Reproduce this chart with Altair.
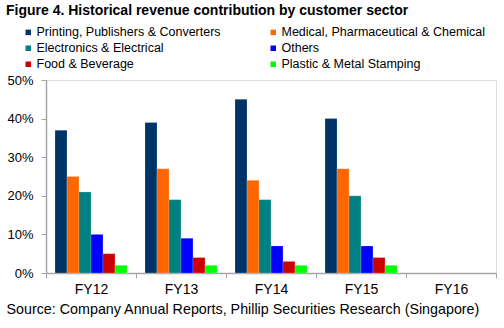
import altair as alt
import pandas as pd

fys = ["FY12", "FY13", "FY14", "FY15", "FY16"]
sectors = [
    "Printing, Publishers & Converters",
    "Medical, Pharmaceutical & Chemical",
    "Electronics & Electrical",
    "Others",
    "Food & Beverage",
    "Plastic & Metal Stamping",
]
colors = ["#003366", "#FF6600", "#008080", "#0000FF", "#CC0000", "#00FF00"]

printing = [0.37, 0.39, 0.45, 0.40]
medical = [0.25, 0.27, 0.24, 0.27]
electronics = [0.21, 0.19, 0.19, 0.20]
others = [0.10, 0.09, 0.07, 0.07]
food = [0.05, 0.04, 0.03, 0.04]
plastic = [0.02, 0.02, 0.02, 0.02]

series = [printing, medical, electronics, others, food, plastic]
rows = []
for name, vals in zip(sectors, series):
    for fy, v in zip(fys, vals):
        rows.append({"FY": fy, "Sector": name, "Value": v})
df = pd.DataFrame(rows)

FONT = "Liberation Sans"

chart = alt.Chart(df).mark_bar(stroke="#ffffff", strokeWidth=0.4, strokeOpacity=0.5).encode(
    x=alt.X(
        "FY:N",
        scale=alt.Scale(domain=fys, paddingInner=0, paddingOuter=0),
        axis=alt.Axis(
            title="Source: Company Annual Reports, Phillip Securities Research (Singapore)",
            titleAnchor="start",
            titleAlign="left",
            titleX=-40,
            titleY=40,
            titleBaseline="alphabetic",
            titleFontSize=14.3,
            titleFontWeight="normal",
            titleFont=FONT,
            titleColor="#000000",
            tickBand="extent",
            labelAngle=0,
            labelFontSize=14,
            labelFont=FONT,
            labelColor="#000000",
            labelPadding=4,
            tickSize=5,
            tickColor="#A6A6A6",
            domainColor="#A6A6A6",
            domainWidth=1.5,
        ),
    ),
    xOffset=alt.XOffset("Sector:N", scale=alt.Scale(domain=sectors, paddingInner=0, paddingOuter=0.75)),
    y=alt.Y(
        "Value:Q",
        scale=alt.Scale(domain=[0, 0.5]),
        axis=alt.Axis(
            title=None,
            format=".0%",
            values=[0, 0.1, 0.2, 0.3, 0.4, 0.5],
            grid=False,
            labelFontSize=13,
            labelFont=FONT,
            labelColor="#000000",
            labelPadding=8,
            tickSize=5,
            tickColor="#A6A6A6",
            domainColor="#A6A6A6",
            domainWidth=1.5,
        ),
    ),
    color=alt.Color(
        "Sector:N",
        scale=alt.Scale(domain=sectors, range=colors),
        legend=alt.Legend(
            title=None,
            orient="none",
            direction="horizontal",
            legendX=-24,
            legendY=-54,
            columns=2,
            columnPadding=46,
            rowPadding=3,
            symbolType="square",
            symbolSize=30,
            symbolStrokeWidth=0,
            labelOffset=2,
            labelFontSize=12.5,
            labelFont=FONT,
            labelColor="#000000",
            labelLimit=300,
        ),
    ),
).properties(
    width=450,
    height=193,
    title=alt.TitleParams(
        "Figure 4. Historical revenue contribution by customer sector",
        anchor="start",
        frame="group",
        dx=-40,
        fontSize=14,
        fontWeight="bold",
        font=FONT,
        color="#000000",
        offset=8,
    ),
    autosize=alt.AutoSizeParams(type="none"),
    padding={"left": 46, "top": 80, "right": 8, "bottom": 55},
).configure_view(stroke=None).configure(background="#ffffff")

chart.save("out.html", embed_options={"renderer": "svg", "actions": False})
